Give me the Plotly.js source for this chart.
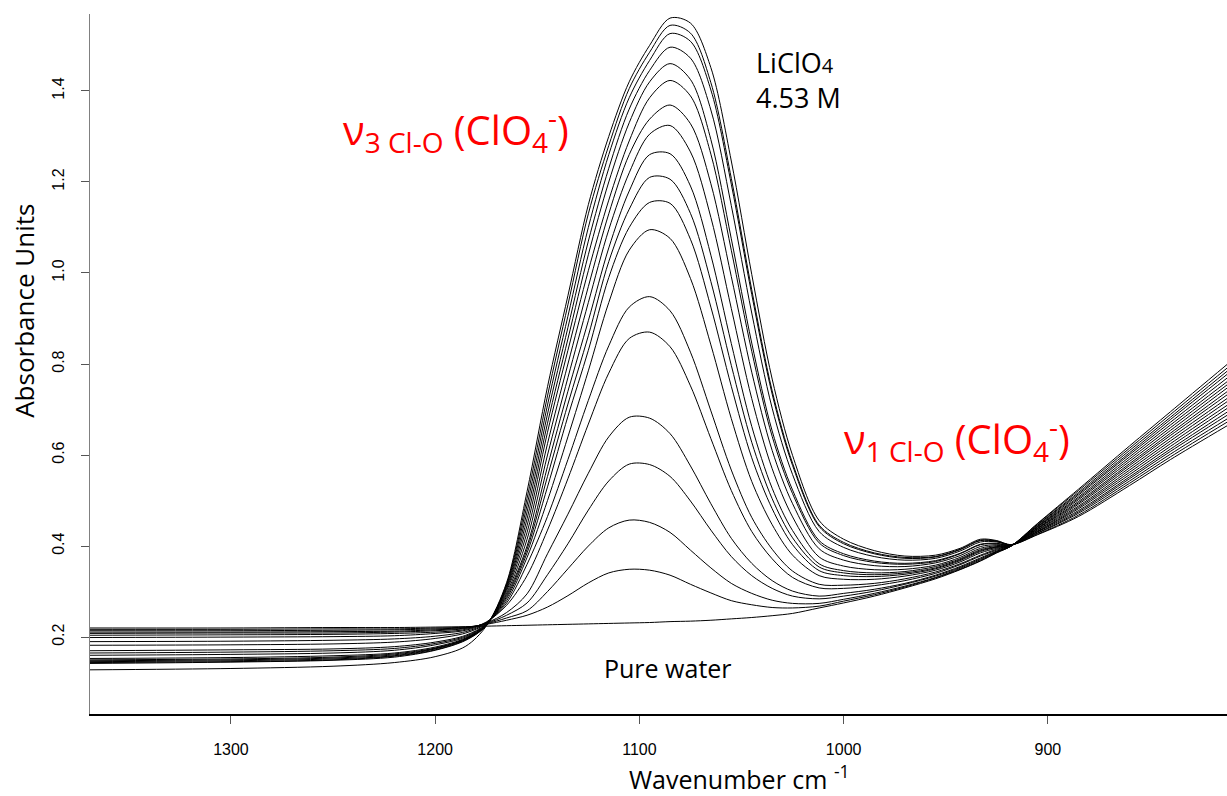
<!DOCTYPE html>
<html>
<head>
<meta charset="utf-8">
<script src="https://cdn.plot.ly/plotly-3.0.1.min.js"></script>
<style>html,body{margin:0;padding:0;background:#fff;}#chart{width:1227px;height:796px;}</style>
</head>
<body>
<div id="chart"></div>
<script>
// Wavenumber grid (cm-1)
const wavenumber = [1370,1300,1250,1220,1200,1185,1175,1165,1155,1145,1135,1125,1115,1105,1095,1085,1075,1065,1055,1045,1035,1025,1012,1000,985,970,955,943,933,925,918,905,885,860,840,812];

// Pure water spectrum
const pureWater = [0.220,0.220,0.221,0.221,0.222,0.223,0.224,0.225,0.226,0.227,0.228,0.229,0.230,0.231,0.232,0.234,0.235,0.237,0.240,0.243,0.247,0.252,0.264,0.275,0.290,0.308,0.328,0.348,0.367,0.385,0.400,0.450,0.525,0.620,0.695,0.800];

// LiClO4 solutions, increasing concentration up to 4.53 M
const s01 = [0.217,0.217,0.218,0.218,0.220,0.222,0.228,0.237,0.248,0.266,0.291,0.319,0.341,0.349,0.347,0.336,0.316,0.297,0.280,0.271,0.265,0.264,0.268,0.279,0.293,0.310,0.330,0.349,0.368,0.386,0.400,0.449,0.522,0.615,0.689,0.792];
const s02 = [0.214,0.214,0.215,0.216,0.218,0.221,0.229,0.242,0.258,0.300,0.350,0.400,0.440,0.457,0.452,0.430,0.391,0.352,0.318,0.296,0.281,0.274,0.274,0.283,0.296,0.312,0.331,0.351,0.370,0.387,0.400,0.447,0.518,0.610,0.683,0.785];
const s03 = [0.211,0.211,0.212,0.213,0.216,0.220,0.230,0.248,0.275,0.337,0.405,0.479,0.543,0.580,0.579,0.553,0.499,0.435,0.377,0.335,0.307,0.290,0.284,0.290,0.301,0.316,0.334,0.353,0.372,0.388,0.400,0.446,0.515,0.605,0.678,0.778];
const s04 = [0.208,0.209,0.209,0.211,0.214,0.219,0.231,0.254,0.295,0.383,0.470,0.560,0.640,0.683,0.681,0.647,0.576,0.493,0.417,0.362,0.324,0.301,0.290,0.296,0.305,0.318,0.336,0.355,0.374,0.389,0.400,0.444,0.512,0.601,0.672,0.770];
const s05 = [0.204,0.205,0.206,0.208,0.211,0.217,0.233,0.270,0.335,0.435,0.548,0.668,0.780,0.856,0.870,0.838,0.752,0.636,0.522,0.432,0.372,0.331,0.308,0.307,0.313,0.324,0.340,0.359,0.378,0.391,0.401,0.443,0.508,0.596,0.666,0.762];
const s06 = [0.199,0.200,0.201,0.203,0.208,0.215,0.232,0.275,0.360,0.465,0.590,0.720,0.840,0.925,0.948,0.917,0.826,0.697,0.567,0.463,0.393,0.345,0.316,0.314,0.318,0.328,0.343,0.361,0.380,0.393,0.401,0.442,0.505,0.591,0.660,0.755];
const s07 = [0.190,0.191,0.193,0.196,0.202,0.212,0.231,0.280,0.375,0.500,0.640,0.785,0.935,1.050,1.095,1.076,0.988,0.842,0.680,0.542,0.447,0.380,0.335,0.327,0.327,0.334,0.347,0.365,0.385,0.395,0.401,0.440,0.502,0.586,0.654,0.748];
const s08 = [0.182,0.183,0.185,0.189,0.197,0.209,0.230,0.285,0.385,0.530,0.685,0.830,0.990,1.100,1.155,1.153,1.074,0.925,0.751,0.594,0.482,0.403,0.346,0.335,0.333,0.338,0.350,0.368,0.388,0.397,0.401,0.439,0.498,0.581,0.648,0.740];
const s09 = [0.170,0.172,0.174,0.179,0.189,0.204,0.229,0.289,0.393,0.553,0.712,0.862,1.025,1.140,1.210,1.206,1.131,0.981,0.797,0.628,0.504,0.418,0.354,0.341,0.337,0.341,0.352,0.370,0.390,0.398,0.401,0.438,0.495,0.577,0.643,0.733];
const s10 = [0.165,0.167,0.170,0.175,0.186,0.202,0.228,0.293,0.400,0.575,0.740,0.895,1.055,1.180,1.260,1.262,1.191,1.039,0.845,0.663,0.527,0.434,0.361,0.346,0.341,0.344,0.355,0.372,0.392,0.399,0.402,0.436,0.492,0.572,0.637,0.725];
const s11 = [0.160,0.162,0.165,0.171,0.183,0.200,0.228,0.297,0.415,0.600,0.770,0.935,1.095,1.220,1.305,1.324,1.266,1.122,0.922,0.724,0.570,0.464,0.376,0.356,0.348,0.349,0.358,0.375,0.395,0.401,0.402,0.435,0.488,0.567,0.631,0.718];
const s12 = [0.153,0.155,0.159,0.165,0.178,0.198,0.227,0.302,0.430,0.625,0.800,0.970,1.130,1.260,1.338,1.369,1.328,1.196,0.992,0.782,0.610,0.493,0.394,0.369,0.357,0.355,0.363,0.379,0.399,0.403,0.402,0.433,0.485,0.562,0.625,0.710];
const s13 = [0.150,0.152,0.156,0.163,0.176,0.197,0.227,0.306,0.445,0.650,0.830,1.005,1.160,1.290,1.385,1.423,1.389,1.261,1.050,0.828,0.641,0.515,0.407,0.379,0.364,0.360,0.366,0.383,0.403,0.405,0.402,0.432,0.482,0.557,0.619,0.703];
const s14 = [0.148,0.150,0.154,0.161,0.175,0.196,0.226,0.309,0.460,0.670,0.855,1.040,1.200,1.330,1.420,1.460,1.425,1.293,1.075,0.846,0.653,0.523,0.412,0.383,0.367,0.362,0.368,0.384,0.404,0.406,0.402,0.431,0.478,0.552,0.613,0.695];
const s15 = [0.146,0.148,0.152,0.159,0.174,0.195,0.226,0.312,0.475,0.690,0.880,1.070,1.230,1.360,1.445,1.496,1.472,1.358,1.148,0.912,0.703,0.557,0.432,0.397,0.377,0.369,0.373,0.389,0.409,0.409,0.403,0.429,0.475,0.548,0.608,0.688];
const s16 = [0.144,0.146,0.150,0.158,0.172,0.194,0.225,0.315,0.490,0.710,0.905,1.100,1.260,1.385,1.467,1.526,1.509,1.402,1.195,0.953,0.734,0.577,0.443,0.405,0.383,0.373,0.376,0.392,0.412,0.410,0.403,0.428,0.472,0.543,0.602,0.680];
const s17 = [0.142,0.145,0.149,0.156,0.171,0.193,0.225,0.317,0.505,0.730,0.930,1.130,1.280,1.405,1.485,1.544,1.527,1.418,1.208,0.963,0.741,0.582,0.446,0.408,0.385,0.375,0.377,0.393,0.413,0.411,0.403,0.426,0.468,0.538,0.596,0.673];
const s18 = [0.128,0.131,0.136,0.144,0.157,0.180,0.224,0.320,0.520,0.750,0.950,1.150,1.300,1.420,1.500,1.560,1.549,1.451,1.246,0.997,0.767,0.599,0.456,0.415,0.390,0.378,0.380,0.395,0.415,0.412,0.403,0.425,0.465,0.533,0.590,0.665];

const seriesList = [pureWater,s01,s02,s03,s04,s05,s06,s07,s08,s09,s10,s11,s12,s13,s14,s15,s16,s17,s18];
const seriesNames = ['Pure water','S1','S2','S3','S4','S5','S6','S7','S8','S9','S10','S11','S12','S13','S14','S15','S16','S17','S18 (4.53 M)'];

const xTicks = [1300,1200,1100,1000,900];
const yTicks = [0.2,0.4,0.6,0.8,1.0,1.2,1.4];

const traces = seriesList.map((ys, i) => ({
  x: wavenumber, y: ys, type: 'scatter', mode: 'lines', name: seriesNames[i],
  line: {color: '#000', width: 1, shape: 'spline', smoothing: 0.9},
  hoverinfo: 'skip'
}));

const red = '#ff0000';
const layout = {
  width: 1227, height: 796,
  margin: {l: 90, r: 0, t: 14, b: 82},
  paper_bgcolor: '#fff', plot_bgcolor: '#fff',
  showlegend: false,
  xaxis: {
    range: [1369, 812.3], showgrid: false, zeroline: false,
    showline: true, linecolor: '#000', linewidth: 1.5,
    ticks: 'outside', ticklen: 8, tickwidth: 1, tickcolor: '#555',
    tickvals: xTicks, ticktext: xTicks.map(String),
    ticklabelstandoff: 12,
    tickfont: {family: 'Liberation Sans, Arial, sans-serif', size: 16, color: '#000'}
  },
  yaxis: {
    range: [0.031, 1.569], showgrid: false, zeroline: false,
    showline: true, linecolor: '#808080', linewidth: 1.5,
    ticks: 'outside', ticklen: 8, tickwidth: 1, tickcolor: '#555',
    tickvals: yTicks, ticktext: yTicks.map(v => v.toFixed(1)),
    tickangle: -90, ticklabelstandoff: 10,
    tickfont: {family: 'Liberation Sans, Arial, sans-serif', size: 16, color: '#000'}
  },
  annotations: [
    {xref: 'paper', yref: 'paper', x: 0.571, y: -0.091, xanchor: 'center', yanchor: 'middle', showarrow: false,
     text: 'Wavenumber cm <sup>-1</sup>', font: {family: 'Open Sans, sans-serif', size: 25, color: '#000'}},
    {xref: 'paper', yref: 'paper', x: -0.058, y: 0.576, xanchor: 'center', yanchor: 'middle', showarrow: false,
     textangle: -90, text: 'Absorbance Units', font: {family: 'Open Sans, sans-serif', size: 26, color: '#000'}},
    {x: 1189.6, y: 1.316, xanchor: 'center', yanchor: 'middle', showarrow: false,
     text: 'ν<sub>3 Cl-O</sub> (ClO<sub>4</sub><sup>-</sup>)', font: {family: 'Open Sans, sans-serif', size: 40, color: red}},
    {x: 944.3, y: 0.637, xanchor: 'center', yanchor: 'middle', showarrow: false,
     text: 'ν<sub>1 Cl-O</sub> (ClO<sub>4</sub><sup>-</sup>)', font: {family: 'Open Sans, sans-serif', size: 40, color: red}},
    {x: 1043.7, y: 1.424, xanchor: 'left', yanchor: 'middle', align: 'left', showarrow: false,
     text: 'LiClO<span style="font-size:20px">4</span><br>4.53 M', font: {family: 'Open Sans, sans-serif', size: 27, color: '#000'}},
    {x: 1085.8, y: 0.132, xanchor: 'center', yanchor: 'middle', showarrow: false,
     text: 'Pure water', font: {family: 'Open Sans, sans-serif', size: 25, color: '#000'}}
  ]
};

Plotly.newPlot('chart', traces, layout, {displayModeBar: false, staticPlot: true});
</script>
</body>
</html>
